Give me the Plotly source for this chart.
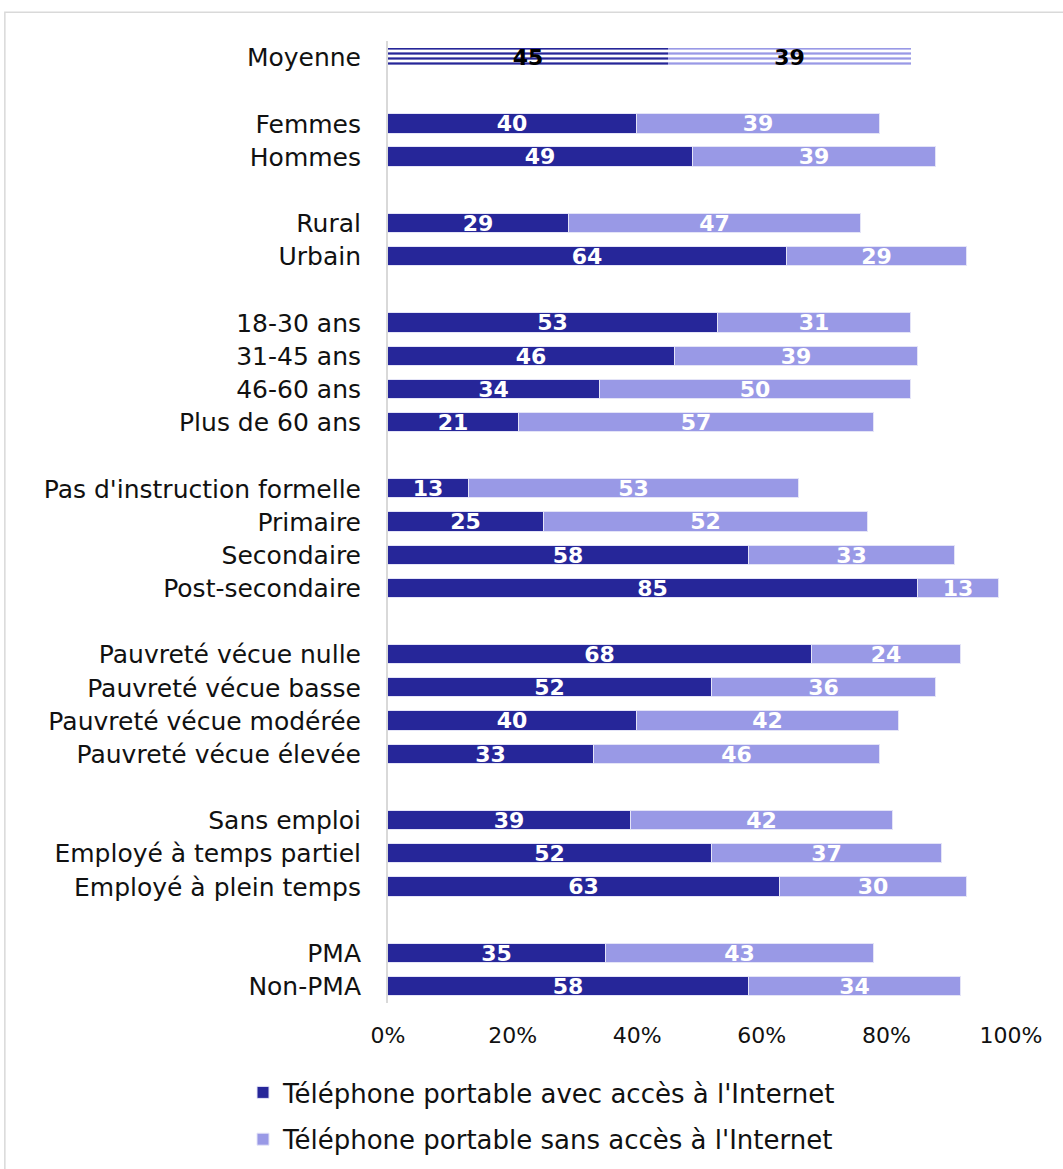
import plotly.graph_objects as go

# Rows of the chart (top to bottom); a blank row separates each group
categories = [
    "Femmes", "Hommes",
    "Rural", "Urbain",
    "18-30 ans", "31-45 ans", "46-60 ans", "Plus de 60 ans",
    "Pas d'instruction formelle", "Primaire", "Secondaire", "Post-secondaire",
    "Pauvreté vécue nulle", "Pauvreté vécue basse", "Pauvreté vécue modérée", "Pauvreté vécue élevée",
    "Sans emploi", "Employé à temps partiel", "Employé à plein temps",
    "PMA", "Non-PMA",
]
row_positions = [2, 3, 5, 6, 8, 9, 10, 11, 13, 14, 15, 16, 18, 19, 20, 21, 23, 24, 25, 27, 28]

avec_internet = [40, 49, 29, 64, 53, 46, 34, 21, 13, 25, 58, 85, 68, 52, 40, 33, 39, 52, 63, 35, 58]
sans_internet = [39, 39, 47, 29, 31, 39, 50, 57, 53, 52, 33, 13, 24, 36, 42, 46, 42, 37, 30, 43, 34]

average_label = "Moyenne"
average_position = 0
average_avec = 45
average_sans = 39

x_ticks = [0, 20, 40, 60, 80, 100]
x_tick_labels = ["0%", "20%", "40%", "60%", "80%", "100%"]

series_names = [
    "Téléphone portable avec accès à l'Internet",
    "Téléphone portable sans accès à l'Internet",
]

DARK = "#262699"
LIGHT = "#9999e6"
FONT = "DejaVu Sans"
BAR_W = 0.58

fig = go.Figure()

# Striped average bar
for val, col in [(average_avec, DARK), (average_sans, LIGHT)]:
    fig.add_trace(go.Bar(
        y=[average_position], x=[val], text=[val], orientation="h", width=BAR_W,
        marker=dict(color=col, line=dict(width=0),
                    pattern=dict(shape="-", fillmode="replace", fgcolor=col,
                                 bgcolor="white", size=5, solidity=0.45)),
        texttemplate="%{text}", textposition="inside", insidetextanchor="middle",
        textfont=dict(family=FONT, size=22, color="black", weight="bold"),
        constraintext="none", showlegend=False, hoverinfo="skip",
    ))

# Group bars
for vals, col, name, grp in [(avec_internet, DARK, series_names[0], "a"),
                             (sans_internet, LIGHT, series_names[1], "b")]:
    fig.add_trace(go.Bar(
        y=row_positions, x=vals, text=vals, orientation="h", width=BAR_W, name=name,
        legendgroup=grp,
        marker=dict(color=col, line=dict(color="#e4e4f7", width=1)),
        texttemplate="%{text}", textposition="inside", insidetextanchor="middle",
        textfont=dict(family=FONT, size=22, color="white", weight="bold"),
        constraintext="none",
    ))

# Outer chart frame
fig.add_shape(type="rect", xref="paper", yref="paper",
              x0=-0.615, x1=1.2, y0=-0.3, y1=1.030,
              line=dict(color="#d9d9d9", width=1.5), fillcolor="rgba(0,0,0,0)",
              layer="below")

fig.update_layout(
    width=1063, height=1169,
    barmode="stack",
    bargap=0,
    plot_bgcolor="white", paper_bgcolor="white",
    margin=dict(l=388, r=52, t=41, b=166, autoexpand=False),
    font=dict(family=FONT, size=25, color="#111111"),
    xaxis=dict(range=[0, 100], tickvals=x_ticks, ticktext=x_tick_labels,
               showgrid=False, zeroline=False, showline=False, ticks="",
               tickfont=dict(size=22), ticklabelstandoff=17, automargin=False),
    yaxis=dict(range=[28.5, -0.5], tickvals=[average_position] + row_positions,
               ticktext=[average_label] + categories,
               showgrid=False, zeroline=False, showline=True,
               linecolor="#d9d9d9", linewidth=2, ticks="",
               tickfont=dict(size=25), ticklabelstandoff=20, automargin=False),
    legend=dict(xref="container", yref="container",
                x=243 / 1063, y=1 - 1069 / 1169, xanchor="left", yanchor="top",
                orientation="v", traceorder="grouped", tracegroupgap=10,
                font=dict(size=26), bgcolor="rgba(0,0,0,0)"),
)

fig.write_html("out.html")
